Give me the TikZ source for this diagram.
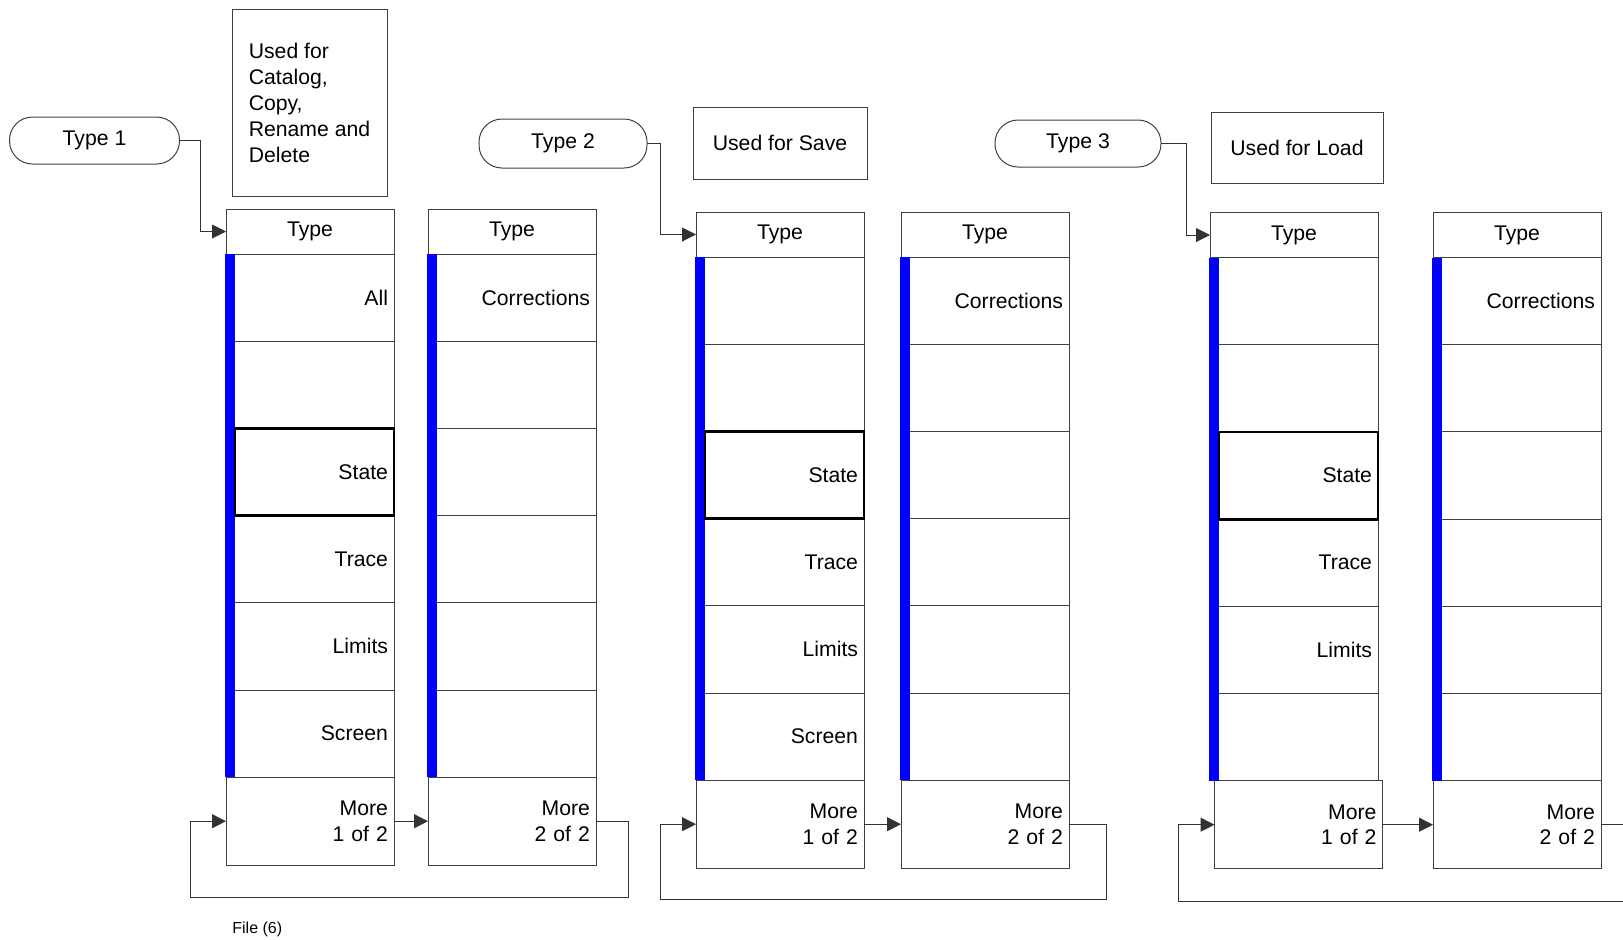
\documentclass[tikz,border=0pt]{standalone}
\usepackage{fontspec}
\setmainfont{Liberation Sans}
\usepackage{tikz}
\usetikzlibrary{positioning,arrows.meta}

\begin{document}
\begin{tikzpicture}[
    x=0.5pt, y=-0.5pt,
    every node/.style={font=\fontsize{10.6}{12.6}\selectfont},
    hdr/.style={rectangle, draw=black!75, line width=0.5pt, outer sep=0pt, inner sep=0pt,
                minimum width=84pt, minimum height=22.5pt},
    softkey/.style={rectangle, draw=black!75, line width=0.5pt, outer sep=0pt,
                inner xsep=3pt, inner ysep=0pt, text width=78pt, align=right,
                minimum height=43.6pt},
    morekey/.style={softkey, minimum height=44pt},
    typepill/.style={rectangle, rounded corners=11.5pt, draw=black!75, line width=0.5pt,
                outer sep=0pt, minimum width=85pt, minimum height=23.5pt},
    note/.style={rectangle, draw=black!75, line width=0.5pt, align=left,
                font=\fontsize{10.6}{13}\selectfont},
    link/.style={-{Triangle[length=7pt, width=7pt]}, line width=0.5pt, draw=black!80},
    selbox/.style={draw=black, line width=1.4pt},
    activebar/.style={fill=blue}
]
\useasboundingbox (0,0) rectangle (1623,939);

% group 1: catalog, copy, rename, delete
\node[typepill] (t1) at (94.5,140.5) {Type 1};
\node[note, minimum width=77.5pt, minimum height=93.5pt] (n1) at (309.5,102.5)
    {Used for\\Catalog,\\Copy,\\Rename and\\Delete};

\node[hdr]                       (hd1) at (310,231.5) {Type};
\node[softkey, below=0pt of hd1] (k1a) {All};
\node[softkey, below=0pt of k1a] (k1b) {};
\node[softkey, below=0pt of k1b] (k1c) {State};
\node[softkey, below=0pt of k1c] (k1d) {Trace};
\node[softkey, below=0pt of k1d] (k1e) {Limits};
\node[softkey, below=0pt of k1e] (k1f) {Screen};
\node[morekey, below=0pt of k1f] (mr1) {More\\1 of 2};

\node[hdr, right=17pt of hd1]    (hd2) {Type};
\node[softkey, below=0pt of hd2] (k2a) {Corrections};
\node[softkey, below=0pt of k2a] (k2b) {};
\node[softkey, below=0pt of k2b] (k2c) {};
\node[softkey, below=0pt of k2c] (k2d) {};
\node[softkey, below=0pt of k2d] (k2e) {};
\node[softkey, below=0pt of k2e] (k2f) {};
\node[morekey, below=0pt of k2f] (mr2) {More\\2 of 2};

% group 2: save
\node[typepill, minimum width=84pt, minimum height=24.5pt] (t2) at (563,143.5) {Type 2};
\node[note, minimum width=87pt, minimum height=36pt] (n2) at (780,143) {Used for Save};

\node[hdr]                       (hd3) at (780,234.5) {Type};
\node[softkey, below=0pt of hd3] (k3a) {};
\node[softkey, below=0pt of k3a] (k3b) {};
\node[softkey, below=0pt of k3b] (k3c) {State};
\node[softkey, below=0pt of k3c] (k3d) {Trace};
\node[softkey, below=0pt of k3d] (k3e) {Limits};
\node[softkey, below=0pt of k3e] (k3f) {Screen};
\node[morekey, below=0pt of k3f] (mr3) {More\\1 of 2};

\node[hdr, right=18.5pt of hd3]  (hd4) {Type};
\node[softkey, below=0pt of hd4] (k4a) {Corrections};
\node[softkey, below=0pt of k4a] (k4b) {};
\node[softkey, below=0pt of k4b] (k4c) {};
\node[softkey, below=0pt of k4c] (k4d) {};
\node[softkey, below=0pt of k4d] (k4e) {};
\node[softkey, below=0pt of k4e] (k4f) {};
\node[morekey, below=0pt of k4f] (mr4) {More\\2 of 2};

% group 3: load
\node[typepill, minimum width=83pt] (t3) at (1078,143.5) {Type 3};
\node[note, minimum width=86pt, minimum height=35.5pt] (n3) at (1297,147.5) {Used for Load};

\node[hdr]                       (hd5) at (1294,235) {Type};
\node[softkey, below=0pt of hd5] (k5a) {};
\node[softkey, below=0pt of k5a] (k5b) {};
\node[softkey, below=0pt of k5b] (k5c) {State};
\node[softkey, below=0pt of k5c] (k5d) {Trace};
\node[softkey, below=0pt of k5d] (k5e) {Limits};
\node[softkey, below=0pt of k5e] (k5f) {};
\node[morekey, below=0pt of k5f, xshift=2.25pt] (mr5) {More\\1 of 2};

\node[hdr, right=27.5pt of hd5]  (hd6) {Type};
\node[softkey, below=0pt of hd6] (k6a) {Corrections};
\node[softkey, below=0pt of k6a] (k6b) {};
\node[softkey, below=0pt of k6b] (k6c) {};
\node[softkey, below=0pt of k6c] (k6d) {};
\node[softkey, below=0pt of k6d] (k6e) {};
\node[softkey, below=0pt of k6e] (k6f) {};
\node[morekey, below=0pt of k6f] (mr6) {More\\2 of 2};

% active bars and selected keys
\fill[activebar] ([xshift=-0.5pt]k1a.north west) rectangle ([xshift=4.5pt]k1f.south west);
\fill[activebar] ([xshift=-0.5pt]k2a.north west) rectangle ([xshift=4.5pt]k2f.south west);
\fill[activebar] ([xshift=-0.5pt]k3a.north west) rectangle ([xshift=4.5pt]k3f.south west);
\fill[activebar] ([xshift=-0.5pt]k4a.north west) rectangle ([xshift=4.5pt]k4f.south west);
\fill[activebar] ([xshift=-0.5pt]k5a.north west) rectangle ([xshift=4.5pt]k5f.south west);
\fill[activebar] ([xshift=-0.5pt]k6a.north west) rectangle ([xshift=4.5pt]k6f.south west);

\draw[selbox] ([xshift=4.5pt]k1c.north west) rectangle (k1c.south east);
\draw[selbox] ([xshift=4.5pt]k3c.north west) rectangle (k3c.south east);
\draw[selbox] ([xshift=4.5pt]k5c.north west) rectangle (k5c.south east);

% connectors
\draw[link] (t1.east) -- ++(21,0) |- (hd1.west);
\draw[link] (t2.east) -- ++(13,0) |- (hd3.west);
\draw[link] (t3.east) -- ++(25,0) |- (hd5.west);

\draw[link] (mr1) -- (mr2);
\draw[link] (mr3) -- (mr4);
\draw[link] (mr5) -- (mr6);

\coordinate (lp1) at (190,897);
\coordinate (lp2) at (660,899);
\coordinate (lp3) at (1178,901);
\draw[link] (mr2.east) -- ++(32,0) |- (lp1) |- (mr1.west);
\draw[link] (mr4.east) -- ++(37,0) |- (lp2) |- (mr3.west);
\draw[link] (mr6.east) -- ++(40,0) |- (lp3) |- (mr5.west);

\node[anchor=west, inner sep=0pt, font=\fontsize{8}{10}\selectfont] (fig) at (232,929) {File (6)};

\end{tikzpicture}
\end{document}
